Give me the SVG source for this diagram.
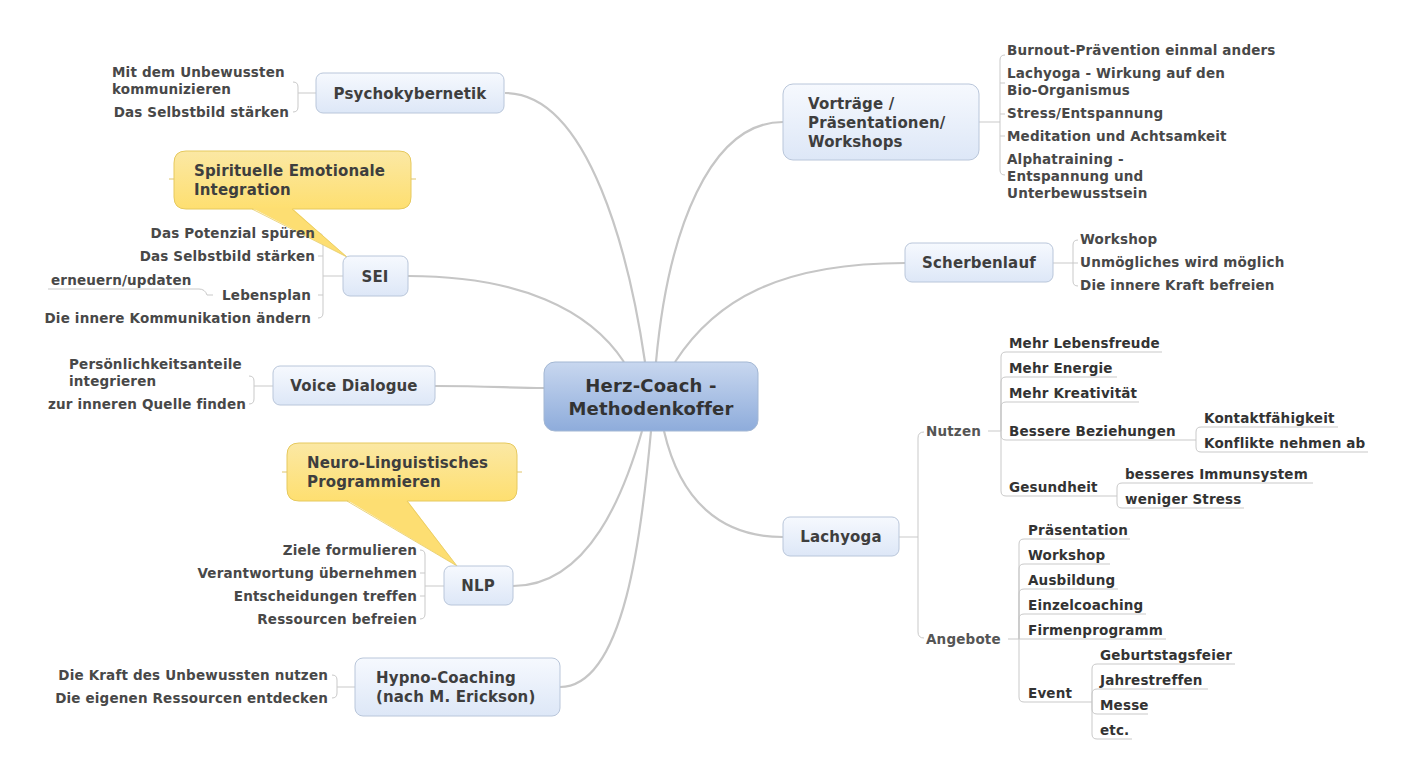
<svg xmlns="http://www.w3.org/2000/svg" width="1411" height="782" viewBox="0 0 1411 782">
<defs>
<linearGradient id="gTopic" x1="0" y1="0" x2="0" y2="1"><stop offset="0" stop-color="#f6f9fe"/><stop offset="1" stop-color="#dde7f7"/></linearGradient>
<linearGradient id="gCenter" x1="0" y1="0" x2="0" y2="1"><stop offset="0" stop-color="#c8d7ef"/><stop offset="1" stop-color="#8eacdb"/></linearGradient>
<linearGradient id="gCall" x1="0" y1="0" x2="0" y2="1"><stop offset="0" stop-color="#fbe8a4"/><stop offset="1" stop-color="#fedf70"/></linearGradient>
<style>
text{font-family:"DejaVu Sans",Verdana,sans-serif;font-weight:bold}
.tr{fill:url(#gTopic);stroke:#b9c6da;stroke-width:1}
.tt{font-size:15px;fill:#3e3e3e;letter-spacing:0.15px}
.ct{font-size:18px;fill:#333;text-anchor:middle;letter-spacing:0.2px}
.lf{font-size:13.5px;fill:#484848;letter-spacing:0.17px}
.ul{font-size:13.5px;fill:#333;letter-spacing:0.17px}
.g{fill:#555}
.e{text-anchor:end}
.m{text-anchor:middle}
.main{fill:none;stroke:#c6c6c6;stroke-width:2.2}
.br{fill:none;stroke:#c9c9c9;stroke-width:1}
.call{fill:url(#gCall);stroke:#e6c95e;stroke-width:1}
.ptr{fill:#fdde72;stroke:none}
</style>
</defs>
<rect width="1411" height="782" fill="#fff"/>

<g id="connectors">
<path class="main" d="M505,93 C590,93 630,260 645,362"/>
<path class="main" d="M408,276 C520,276 590,310 624,362"/>
<path class="main" d="M435,386 C490,386 510,388 544,388"/>
<path class="main" d="M513,586 C590,586 625,490 642,431"/>
<path class="main" d="M560,687 C625,687 642,530 651,431"/>
<path class="main" d="M783,122 C710,122 668,230 656,362"/>
<path class="main" d="M905,263 C780,263 715,300 675,362"/>
<path class="main" d="M783,537 C720,537 680,500 664,431"/>

<path class="br" d="M316,93 H298 M293,82 Q298,82 298,87 V107 Q298,112 293,112"/>
<path class="br" d="M343,276 H323 M318,233 Q323,233 323,238 V313 Q323,318 318,318 M318,256 H323 M318,295 H323"/>
<path class="br" d="M48,289 H199 Q205,289 207,295 L213,295"/>
<path class="br" d="M273,386 H254 M249,376 Q254,376 254,381 V399 Q254,404 249,404"/>
<path class="br" d="M444,586 H425 M420,550 Q425,550 425,555 V614 Q425,619 420,619 M420,573 H425 M420,596 H425"/>
<path class="br" d="M355,687 H337 M332,675 Q337,675 337,680 V693 Q337,698 332,698"/>
<path class="br" d="M979,122 H1000 M1005,55 Q1000,55 1000,60 V170 Q1000,175 1005,175 M1000,83 H1005 M1000,114 H1005 M1000,136 H1005"/>
<path class="br" d="M1053,263 H1073 M1078,240 Q1073,240 1073,245 V281 Q1073,286 1078,286 M1073,263 H1078"/>
<path class="br" d="M899,537 H918 M924,432 Q918,432 918,438 V632 Q918,638 924,638"/>
<path class="br" d="M988,431 H1001
M1001,431 V357 Q1001,352 1006,352 H1162
M1001,431 V382 Q1001,377 1006,377 H1117
M1001,431 V407 Q1001,402 1006,402 H1139
M1001,431 V435 Q1001,440 1006,440 H1196
M1001,431 V491 Q1001,496 1006,496 H1117"/>
<path class="br" d="M1196,440 V432 Q1196,427 1201,427 H1338 M1196,440 V447 Q1196,452 1201,452 H1368"/>
<path class="br" d="M1117,496 V488 Q1117,483 1122,483 H1313 M1117,496 V503 Q1117,508 1122,508 H1244"/>
<path class="br" d="M1008,639 H1019
M1019,639 V544 Q1019,539 1024,539 H1130
M1019,639 V569 Q1019,564 1024,564 H1110
M1019,639 V594 Q1019,589 1024,589 H1118
M1019,639 V619 Q1019,614 1024,614 H1146
M1019,639 H1166
M1019,639 V697 Q1019,702 1024,702 H1092"/>
<path class="br" d="M1092,702 V669 Q1092,664 1097,664 H1235
M1092,702 V694 Q1092,689 1097,689 H1208
M1092,702 V709 Q1092,714 1097,714 H1148
M1092,702 V734 Q1092,739 1097,739 H1132"/>
</g>

<g id="center">
<rect x="544" y="362" width="214" height="69" rx="11" fill="url(#gCenter)" stroke="#a3b7d3"/>
<text class="ct" x="651" y="392">Herz-Coach -</text>
<text class="ct" x="651" y="415">Methodenkoffer</text>
</g>

<g id="psychokybernetik">
<rect class="tr" x="316" y="73" width="188" height="40" rx="7"/>
<text class="tt m" x="410" y="99">Psychokybernetik</text>
<text class="lf" x="112" y="77">Mit dem Unbewussten</text>
<text class="lf" x="112" y="94">kommunizieren</text>
<text class="lf e" x="289" y="117">Das Selbstbild stärken</text>
</g>

<g id="sei-callout">
<path class="call" d="M186,151 H399 Q411,151 411,163 V197 Q411,209 399,209 H186 Q174,209 174,197 V163 Q174,151 186,151 Z"/>
<path class="ptr" d="M252,208 L292,208 L347,257 Z"/>
<path d="M252,209 L347,257 L292,209" fill="none" stroke="#e6c95e" stroke-width="0.8"/>
<path d="M169,179 H174 M411,179 H416" stroke="#e0c56a" stroke-width="1"/>
<text class="tt" x="194" y="176">Spirituelle Emotionale</text>
<text class="tt" x="194" y="195">Integration</text>
</g>

<g id="sei">
<rect class="tr" x="343" y="256" width="65" height="40" rx="7"/>
<text class="tt m" x="375" y="282">SEI</text>
<text class="lf e" x="315" y="238">Das Potenzial spüren</text>
<text class="lf e" x="315" y="261">Das Selbstbild stärken</text>
<text class="lf e" x="311" y="300">Lebensplan</text>
<text class="lf e" x="311" y="323">Die innere Kommunikation ändern</text>
<text class="lf" x="51" y="285">erneuern/updaten</text>
</g>

<g id="voice-dialogue">
<rect class="tr" x="273" y="366" width="162" height="39" rx="7"/>
<text class="tt m" x="354" y="391">Voice Dialogue</text>
<text class="lf" x="69" y="369">Persönlichkeitsanteile</text>
<text class="lf" x="69" y="386">integrieren</text>
<text class="lf e" x="246" y="409">zur inneren Quelle finden</text>
</g>

<g id="nlp-callout">
<path class="call" d="M299,443 H505 Q517,443 517,455 V489 Q517,501 505,501 H299 Q287,501 287,489 V455 Q287,443 299,443 Z"/>
<path class="ptr" d="M347,500 L407,500 L457,566 Z"/>
<path d="M347,501 L457,566 L407,501" fill="none" stroke="#e6c95e" stroke-width="0.8"/>
<path d="M282,472 H287 M517,472 H522" stroke="#e0c56a" stroke-width="1"/>
<text class="tt" x="307" y="468">Neuro-Linguistisches</text>
<text class="tt" x="307" y="487">Programmieren</text>
</g>

<g id="nlp">
<rect class="tr" x="444" y="566" width="69" height="39" rx="7"/>
<text class="tt m" x="478" y="591">NLP</text>
<text class="lf e" x="417" y="555">Ziele formulieren</text>
<text class="lf e" x="417" y="578">Verantwortung übernehmen</text>
<text class="lf e" x="417" y="601">Entscheidungen treffen</text>
<text class="lf e" x="417" y="624">Ressourcen befreien</text>
</g>

<g id="hypno-coaching">
<rect class="tr" x="355" y="658" width="205" height="58" rx="8"/>
<text class="tt" x="376" y="683">Hypno-Coaching</text>
<text class="tt" x="376" y="702">(nach M. Erickson)</text>
<text class="lf e" x="328" y="680">Die Kraft des Unbewussten nutzen</text>
<text class="lf e" x="328" y="703">Die eigenen Ressourcen entdecken</text>
</g>

<g id="vortraege">
<rect class="tr" x="783" y="84" width="196" height="76" rx="10"/>
<text class="tt" x="808" y="109">Vorträge /</text>
<text class="tt" x="808" y="128">Präsentationen/</text>
<text class="tt" x="808" y="147">Workshops</text>
<text class="lf" x="1007" y="55">Burnout-Prävention einmal anders</text>
<text class="lf" x="1007" y="78">Lachyoga - Wirkung auf den</text>
<text class="lf" x="1007" y="95">Bio-Organismus</text>
<text class="lf" x="1007" y="118">Stress/Entspannung</text>
<text class="lf" x="1007" y="141">Meditation und Achtsamkeit</text>
<text class="lf" x="1007" y="164">Alphatraining -</text>
<text class="lf" x="1007" y="181">Entspannung und</text>
<text class="lf" x="1007" y="198">Unterbewusstsein</text>
</g>

<g id="scherbenlauf">
<rect class="tr" x="905" y="243" width="148" height="39" rx="7"/>
<text class="tt m" x="979" y="268">Scherbenlauf</text>
<text class="lf" x="1080" y="244">Workshop</text>
<text class="lf" x="1080" y="267">Unmögliches wird möglich</text>
<text class="lf" x="1080" y="290">Die innere Kraft befreien</text>
</g>

<g id="lachyoga">
<rect class="tr" x="783" y="517" width="116" height="39" rx="7"/>
<text class="tt m" x="841" y="542">Lachyoga</text>
</g>

<g id="nutzen">
<text class="lf g" x="926" y="436">Nutzen</text>
<text class="ul" x="1009" y="348">Mehr Lebensfreude</text>
<text class="ul" x="1009" y="373">Mehr Energie</text>
<text class="ul" x="1009" y="398">Mehr Kreativität</text>
<text class="ul" x="1009" y="436">Bessere Beziehungen</text>
<text class="ul" x="1204" y="423">Kontaktfähigkeit</text>
<text class="ul" x="1204" y="448">Konflikte nehmen ab</text>
<text class="ul" x="1009" y="492">Gesundheit</text>
<text class="ul" x="1125" y="479">besseres Immunsystem</text>
<text class="ul" x="1125" y="504">weniger Stress</text>
</g>

<g id="angebote">
<text class="lf g" x="926" y="644">Angebote</text>
<text class="ul" x="1028" y="535">Präsentation</text>
<text class="ul" x="1028" y="560">Workshop</text>
<text class="ul" x="1028" y="585">Ausbildung</text>
<text class="ul" x="1028" y="610">Einzelcoaching</text>
<text class="ul" x="1028" y="635">Firmenprogramm</text>
<text class="ul" x="1028" y="698">Event</text>
<text class="ul" x="1100" y="660">Geburtstagsfeier</text>
<text class="ul" x="1100" y="685">Jahrestreffen</text>
<text class="ul" x="1100" y="710">Messe</text>
<text class="ul" x="1100" y="735">etc.</text>
</g>
</svg>
